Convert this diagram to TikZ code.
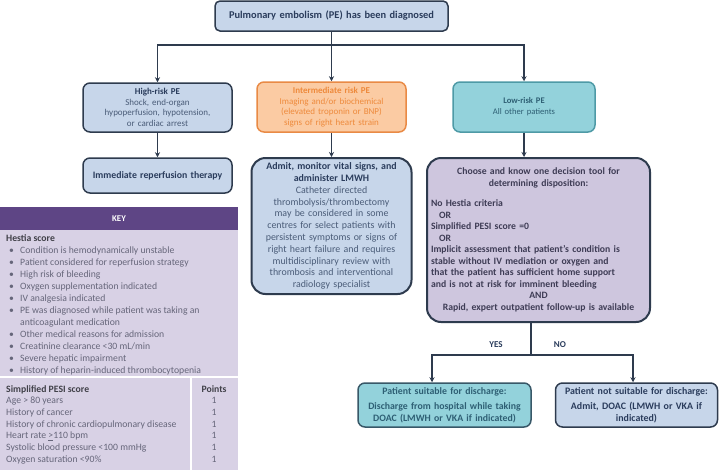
\documentclass[tikz,border=0pt]{standalone}
\usepackage{fontspec}
\setmainfont{Carlito}
\usetikzlibrary{arrows.meta,calc}
\definecolor{lnc}{HTML}{2E3B4E}
\definecolor{bluefill}{HTML}{C7D6EA}
\definecolor{bluetext}{HTML}{2A3C5C}
\definecolor{bluetext2}{HTML}{4A5C78}
\definecolor{orfill}{HTML}{FBCBA3}
\definecolor{ordraw}{HTML}{E98A45}
\definecolor{ortext}{HTML}{EE8A3C}
\definecolor{tealfill}{HTML}{93D2DB}
\definecolor{tealdraw}{HTML}{4E9AA6}
\definecolor{tealtext}{HTML}{2E5F74}
\definecolor{lavfill}{HTML}{CEC6DE}
\definecolor{lavtext}{HTML}{3E3C55}
\definecolor{keyhead}{HTML}{5E4585}
\definecolor{keybody}{HTML}{D8D1E5}
\definecolor{keytext}{HTML}{66667A}
\definecolor{keybold}{HTML}{404048}
\tikzset{
  x=1pt, y=-1pt,
  fs/.style={font=\fontsize{9}{11.5}\selectfont},
  box/.style={draw=lnc, line width=1.5pt, rounded corners=7pt, align=center, inner xsep=3pt, inner ysep=2pt, fs},
  bluebox/.style={box, fill=bluefill, text=bluetext},
  orbox/.style={box, fill=orfill, draw=ordraw, text=ortext},
  tealbox/.style={box, fill=tealfill, draw=tealdraw, text=tealtext},
  lavbox/.style={box, fill=lavfill, text=lavtext, rounded corners=14pt, line width=2pt},
  conn/.style={draw=lnc, line width=1.6pt},
  arr/.style={conn, -{Stealth[length=5pt,width=5pt]}},
  keyt/.style={anchor=base west, text=keytext, inner sep=0pt, font=\fontsize{9.7}{10}\selectfont},
  keyh/.style={keyt, text=keybold, font=\fontsize{9.7}{10}\selectfont\bfseries},
  pts/.style={anchor=base, text=keytext, inner sep=0pt, font=\fontsize{9.7}{10}\selectfont},
  lbl/.style={text=bluetext, font=\fontsize{9}{11}\selectfont\bfseries, inner sep=0pt}
}
\begin{document}
\begin{tikzpicture}
\useasboundingbox (0,0) rectangle (720,472);
\fill[white] (0,0) rectangle (720,472);

% top
\node[bluebox, rounded corners=5pt, minimum height=30pt, text width=227pt, font=\fontsize{10.4}{12}\selectfont\bfseries] (top) at (331.5,16) {Pulmonary embolism (PE) has been diagnosed};

% three risk boxes
\node[bluebox, minimum height=49pt, text width=143pt, font=\fontsize{9}{10.7}\selectfont, text=bluetext2] (high) at (157.5,107.5)
 {\textbf{\color{bluetext}High-risk PE}\\Shock, end-organ\\hypoperfusion, hypotension,\\or cardiac arrest};
\node[bluebox, minimum height=35pt, text width=143pt, font=\fontsize{9.8}{11}\selectfont\bfseries] (imm) at (157.5,175.5) {Immediate reperfusion therapy};

\node[orbox, minimum height=50pt, text width=143pt, font=\fontsize{9}{10.7}\selectfont] (inter) at (331.5,107)
 {\textbf{Intermediate risk PE}\\Imaging and/or biochemical\\(elevated troponin or BNP)\\signs of right heart strain};
\node[bluebox, rounded corners=14pt, line width=2pt, minimum height=136pt, text width=156pt, inner xsep=2pt, font=\fontsize{9.9}{11.8}\selectfont, text=bluetext2] (admit) at (331.5,226)
 {\textbf{\color{bluetext}Admit, monitor vital signs, and}\\\textbf{\color{bluetext}administer LMWH}\\Catheter directed\\thrombolysis/thrombectomy\\may be considered in some\\centres for select patients with\\persistent symptoms or signs of\\right heart failure and requires\\multidisciplinary review with\\thrombosis and interventional\\radiology specialist};

\node[tealbox, minimum height=50pt, text width=136pt, font=\fontsize{8.6}{11}\selectfont] (low) at (524,107)
 {\textbf{Low-risk PE}\\All other patients};

\node[lavbox, minimum height=164pt, text width=215pt, inner xsep=4pt, align=left, font=\fontsize{9.7}{11.5}\selectfont\bfseries] (dec) at (538.5,240)
 {{\centering Choose and know one decision tool for\\determining disposition:\par}\vspace{9pt}
  {\raggedright No Hestia criteria\\\hspace*{8pt}OR\\Simplified PESI score =0\\\hspace*{8pt}OR\\Implicit assessment that patient's condition is\\stable without IV mediation or oxygen and\\that the patient has sufficient home support\\and is not at risk for imminent bleeding\par}
  {\centering AND\\Rapid, expert outpatient follow-up is available\par}};

% bottom boxes
\node[tealbox, draw=lnc!70!tealdraw, minimum height=44pt, text width=169pt, inner xsep=2pt, font=\fontsize{9.8}{11.5}\selectfont\bfseries] (dis) at (444.5,405)
 {Patient suitable for discharge:\\[4pt]Discharge from hospital while taking\\DOAC (LMWH or VKA if indicated)};
\node[bluebox, minimum height=44pt, text width=158pt, inner xsep=2pt, font=\fontsize{9.9}{11.5}\selectfont\bfseries] (no) at (636.5,405)
 {Patient not suitable for discharge:\\[4pt]Admit, DOAC (LMWH or VKA if\\indicated)};

% connectors
\coordinate (j1) at (331.5,45);
\draw[conn] (top.south) -- (j1);
\draw[arr] (j1) -| (high.north);
\draw[arr] (j1) -- (inter.north);
\draw[arr] (j1) -| (low.north);
\draw[arr] (high) -- (imm);
\draw[arr] (inter) -- (admit);
\draw[arr] (low.south) -- (low.south |- dec.north);
\coordinate (j2) at (531,355);
\draw[conn] (dec.south -| j2) -- (j2);
\draw[arr] (j2) -| ([xshift=-12.5pt]dis.north);
\draw[arr] (j2) -| ([xshift=-3.5pt]no.north);
\node[lbl] (yes) at (496,345) {YES};
\node[lbl] (nolbl) at (560,345) {NO};

% key
\fill[keyhead] (0,207) rectangle (238,230);
\node[text=white, font=\fontsize{8.8}{10}\selectfont\bfseries, inner sep=0pt] (keyt) at (119,218.5) {KEY};
\fill[keybody] (0,230) rectangle (238,470);
\draw[white, line width=1.2pt] (0,377) -- (238,377);
\draw[white, line width=1.2pt] (191,377) -- (191,470);

\node[keyh] (hs) at (6,241) {Hestia score};
\foreach \i/\t in {1/{Condition is hemodynamically unstable},
  2/{Patient considered for reperfusion strategy},
  3/{High risk of bleeding},
  4/{Oxygen supplementation indicated},
  5/{IV analgesia indicated},
  6/{PE was diagnosed while patient was taking an},
  8/{Other medical reasons for admission},
  9/{Creatinine clearance <30 mL/min},
  10/{Severe hepatic impairment},
  11/{History of heparin-induced thrombocytopenia}}{
  \node[keyt] (b\i) at (9,{241+12*\i}) {\textbullet};
  \node[keyt] (h\i) at (20,{241+12*\i}) {\t};
}
\node[keyt] (h7) at (20,{241+12*7}) {anticoagulant medication};

\node[keyh] (ps) at (6,392) {Simplified PESI score};
\node[pts, text=keybold, font=\fontsize{9.7}{10}\selectfont\bfseries] (pp) at (214,392) {Points};
\foreach \i/\t in {1/{Age > 80 years},
  2/{History of cancer},
  3/{History of chronic cardiopulmonary disease},
  4/{Heart rate \underline{>}110 bpm},
  5/{Systolic blood pressure <100 mmHg},
  6/{Oxygen saturation <90\%}}{
  \node[keyt] (p\i) at (6,{392+11.7*\i}) {\t};
  \node[pts] (v\i) at (214,{392+11.7*\i}) {1};
}
\end{tikzpicture}
\end{document}
